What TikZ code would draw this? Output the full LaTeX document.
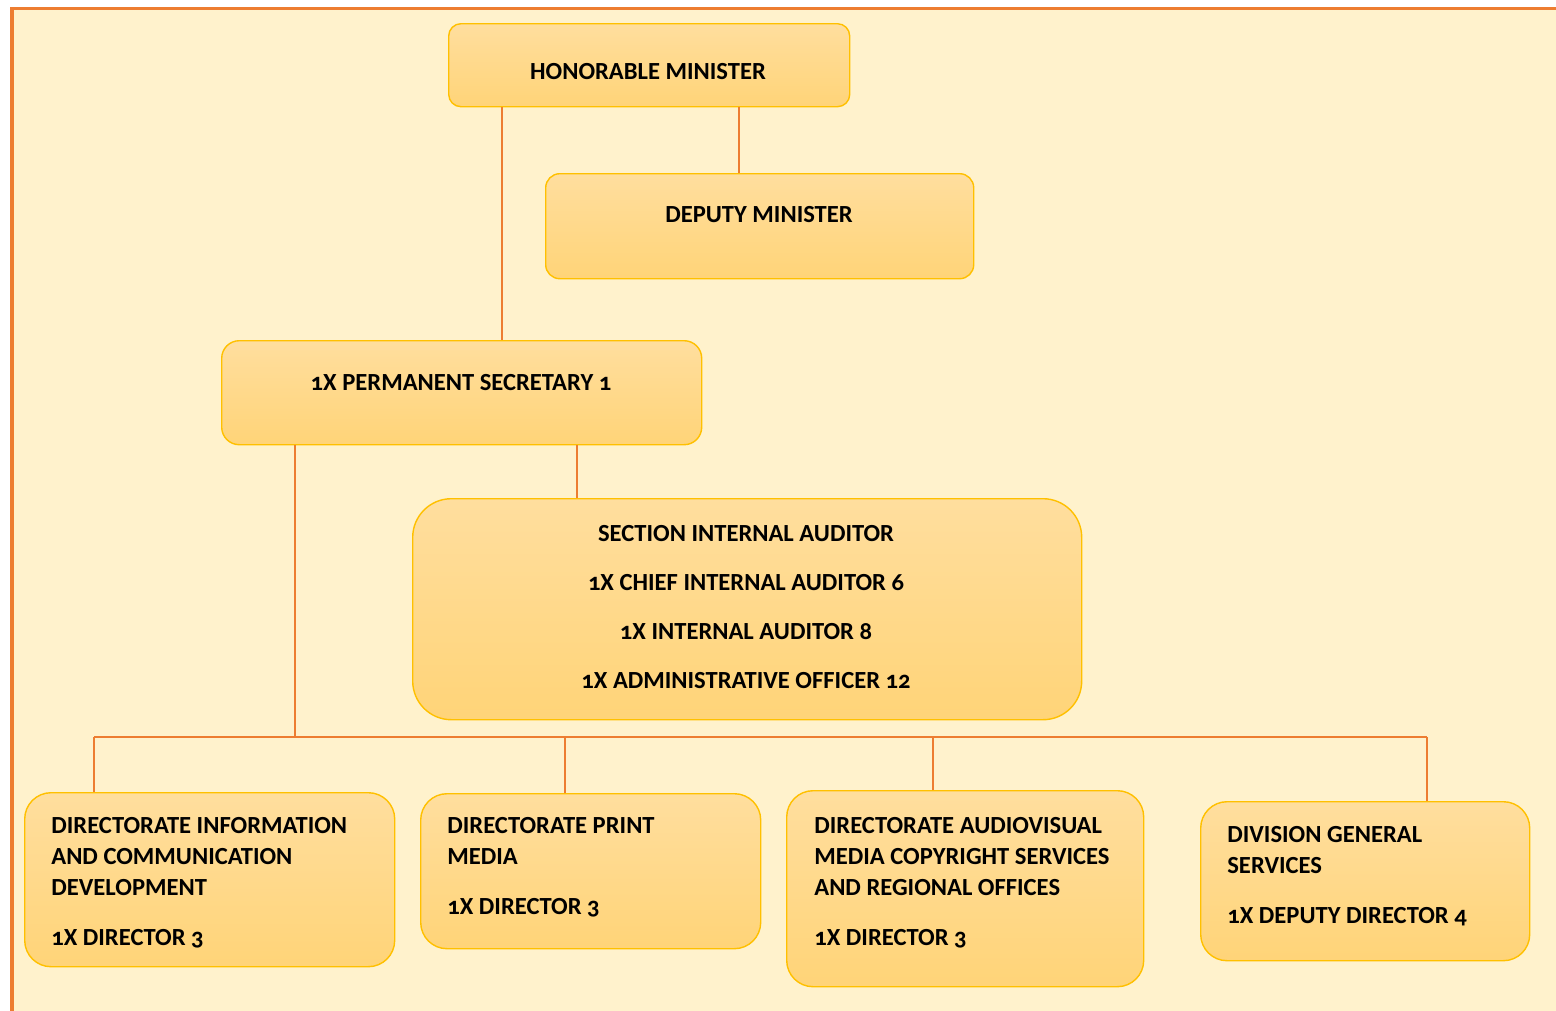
\documentclass[tikz,border=0pt]{standalone}
\usepackage{fontspec}
\setmainfont{Carlito}[Numbers=OldStyle]
\usetikzlibrary{positioning}
\definecolor{paper}{HTML}{FFF2CC}
\definecolor{frameorange}{HTML}{ED7D31}
\definecolor{linkorange}{HTML}{F0A070}
\definecolor{boxline}{HTML}{FFC000}
\definecolor{boxtop}{HTML}{FFDE9E}
\definecolor{boxbottom}{HTML}{FFD478}
\tikzset{
	boxstyle/.style={rectangle,draw=boxline,line width=0.8pt,top color=boxtop,bottom color=boxbottom,anchor=north west,inner sep=0pt},
	boxsize/.style 2 args={minimum width=#1*0.02cm,minimum height=#2*0.02cm},
	linkstyle/.style={draw=frameorange,line width=0.7pt},
	titlestyle/.style={font=\fontsize{14}{17.6}\selectfont\bfseries,inner sep=0pt,align=center},
	unitstyle/.style={font=\fontsize{14}{17.6}\selectfont\bfseries,inner sep=0pt,anchor=north west,align=left}
}

\begin{document}
\begin{tikzpicture}[x=0.02cm,y=-0.02cm]
	\useasboundingbox (0,0) rectangle (1556,1011);
	\fill[white] (0,0) rectangle (1556,1011);
	\fill[paper] (10,7) rectangle (1556,1011);
	\fill[frameorange] (10,7) rectangle (1556,10);
	\fill[frameorange] (10,7) rectangle (14,1011);
	% boxes
	\node[boxstyle,boxsize={401}{83},rounded corners=7pt] (min) at (448,23) {};
	\node[boxstyle,boxsize={428}{105},rounded corners=8pt] (dep) at (545,173) {};
	\node[boxstyle,boxsize={480}{104},rounded corners=10pt] (ps) at (221,340) {};
	\node[boxstyle,boxsize={669}{221},rounded corners=22pt] (aud) at (412,498) {};
	\node[boxstyle,boxsize={370}{174},rounded corners=15pt] (d1) at (24,792) {};
	\node[boxstyle,boxsize={340}{155},rounded corners=15pt] (d2) at (420,793) {};
	\node[boxstyle,boxsize={357}{196},rounded corners=15pt] (d3) at (786,790) {};
	\node[boxstyle,boxsize={329}{159},rounded corners=15pt] (d4) at (1200,801) {};
	% texts
	\node[titlestyle] (min-t) at (648,72) {HONORABLE MINISTER};
	\node[titlestyle] (dep-t) at (759,215) {DEPUTY MINISTER};
	\node[titlestyle] (ps-t) at (461,383) {1X PERMANENT SECRETARY 1};
	\node[titlestyle] (aud-t) at (746,607) {SECTION INTERNAL AUDITOR\\[10.4pt]
		1X CHIEF INTERNAL AUDITOR 6\\[10.4pt]
		1X INTERNAL AUDITOR 8\\[10.4pt]
		1X ADMINISTRATIVE OFFICER 12};
	\node[unitstyle] (d1-t) at (51,817) {DIRECTORATE INFORMATION\\
		AND COMMUNICATION\\
		DEVELOPMENT\\[10.8pt]
		1X DIRECTOR 3};
	\node[unitstyle] (d2-t) at (447,817) {DIRECTORATE PRINT\\
		MEDIA\\[10.8pt]
		1X DIRECTOR 3};
	\node[unitstyle] (d3-t) at (814,817) {DIRECTORATE AUDIOVISUAL\\
		MEDIA COPYRIGHT SERVICES\\
		AND REGIONAL OFFICES\\[10.8pt]
		1X DIRECTOR 3};
	\node[unitstyle] (d4-t) at (1227,826) {DIVISION GENERAL\\
		SERVICES\\[10.8pt]
		1X DEPUTY DIRECTOR 4};
	% links
	\coordinate (busl) at (94,737);
	\coordinate (busr) at (1427,737);
	\draw[linkstyle] ([xshift=54*0.02cm]min.south west) -- ([xshift=281*0.02cm]ps.north west);
	\draw[linkstyle] ([xshift=291*0.02cm]min.south west) -- ([xshift=194*0.02cm]dep.north west);
	\draw[linkstyle] ([xshift=356*0.02cm]ps.south west) -- ([xshift=165*0.02cm]aud.north west);
	\draw[linkstyle] ([xshift=74*0.02cm]ps.south west) |- (busl);
	\draw[linkstyle] (busl) -- (busr);
	\draw[linkstyle] (busl) -- ([xshift=70*0.02cm]d1.north west);
	\draw[linkstyle] ([xshift=145*0.02cm]d2.north west) |- (busl);
	\draw[linkstyle] ([xshift=147*0.02cm]d3.north west) |- (busr);
	\draw[linkstyle] (busr) -- ([xshift=227*0.02cm]d4.north west);
\end{tikzpicture}
\end{document}
